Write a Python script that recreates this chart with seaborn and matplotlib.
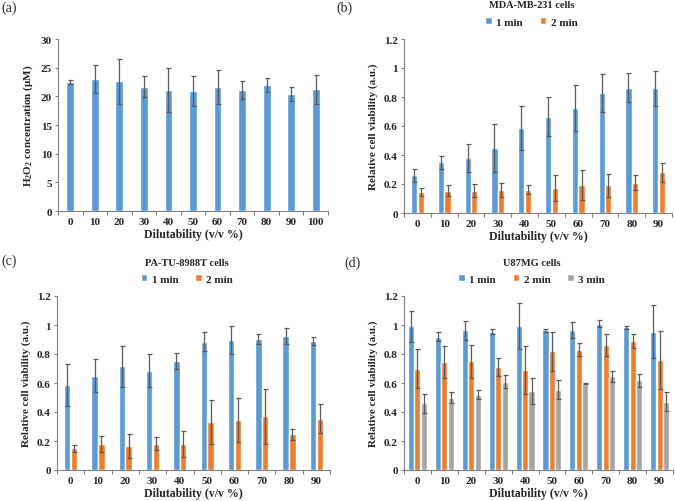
import numpy as np
import pandas as pd
import seaborn as sns
import matplotlib.pyplot as plt
from matplotlib.patches import Patch

# ---- data ----
dil_a = ['0', '10', '20', '30', '40', '50', '60', '70', '80', '90', '100']
h2o2 = [22.5, 23.0, 22.6, 21.7, 21.1, 21.0, 21.6, 21.1, 22.0, 20.4, 21.2]
h2o2_err = [0.3, 2.4, 3.9, 1.9, 3.9, 2.6, 3.0, 1.6, 1.2, 1.3, 2.5]

dil = ['0', '10', '20', '30', '40', '50', '60', '70', '80', '90']

mda_1 = [0.26, 0.35, 0.38, 0.45, 0.585, 0.665, 0.725, 0.83, 0.865, 0.86]
mda_1_err = [0.045, 0.045, 0.095, 0.165, 0.15, 0.135, 0.16, 0.13, 0.1, 0.12]
mda_2 = [0.145, 0.155, 0.155, 0.16, 0.16, 0.175, 0.195, 0.19, 0.21, 0.28]
mda_2_err = [0.03, 0.04, 0.045, 0.05, 0.03, 0.09, 0.105, 0.08, 0.05, 0.065]

pa_1 = [0.585, 0.65, 0.715, 0.685, 0.755, 0.885, 0.895, 0.905, 0.925, 0.89]
pa_1_err = [0.145, 0.115, 0.14, 0.115, 0.055, 0.065, 0.095, 0.035, 0.055, 0.03]
pa_2 = [0.15, 0.18, 0.165, 0.18, 0.18, 0.33, 0.345, 0.37, 0.245, 0.355]
pa_2_err = [0.025, 0.055, 0.08, 0.045, 0.09, 0.15, 0.15, 0.19, 0.035, 0.1]

u87_1 = [0.99, 0.92, 0.965, 0.955, 0.995, 0.965, 0.965, 1.01, 0.985, 0.955]
u87_1_err = [0.11, 0.03, 0.065, 0.015, 0.16, 0.01, 0.055, 0.025, 0.01, 0.185]
u87_2 = [0.70, 0.745, 0.75, 0.71, 0.69, 0.82, 0.83, 0.86, 0.89, 0.76]
u87_2_err = [0.135, 0.11, 0.115, 0.065, 0.165, 0.135, 0.045, 0.075, 0.05, 0.2]
u87_3 = [0.46, 0.50, 0.52, 0.61, 0.545, 0.555, 0.595, 0.645, 0.62, 0.47]
u87_3_err = [0.065, 0.04, 0.03, 0.045, 0.09, 0.065, 0.003, 0.04, 0.045, 0.065]

colors = ['#5B9BD5', '#ED7D31', '#A5A5A5']
errcol = '#595959'

sns.set_style('white')
plt.rcParams['font.family'] = ['Liberation Serif', 'DejaVu Serif']
plt.rcParams['font.weight'] = 'bold'
plt.rcParams['mathtext.fontset'] = 'custom'
plt.rcParams['mathtext.rm'] = 'Liberation Serif'
plt.rcParams['mathtext.bf'] = 'Liberation Serif:bold'

FAM = ['Liberation Serif', 'DejaVu Serif']
W, H = 675, 502
fig = plt.figure(figsize=(W / 100, H / 100), dpi=100)


def fy(py):
    # pixel row from top -> figure fraction
    return 1 - py / H


def panel(box, cats, series, errs, names, width, ylim, yticks, ylabel, title, letter, letter_xy):
    x0, y0, x1, y1 = box
    ax = fig.add_axes([x0 / W, fy(y1), (x1 - x0) / W, (y1 - y0) / H])
    rows = []
    for name, vals in zip(names, series):
        for c, v in zip(cats, vals):
            rows.append({'dil': c, 'val': v, 'time': name})
    df = pd.DataFrame(rows)
    sns.barplot(data=df, x='dil', y='val', hue='time', palette=colors[:len(names)],
                width=width, gap=0.06 if len(names) > 1 else 0, errorbar=None,
                ax=ax, legend=False, saturation=1)
    for cont, e in zip(ax.containers, errs):
        xs = [p.get_x() + p.get_width() / 2 for p in cont.patches]
        ys = [p.get_height() for p in cont.patches]
        ax.errorbar(xs, ys, yerr=e, fmt='none', ecolor=errcol, elinewidth=0.9,
                    capsize=1.8, capthick=0.9)
    ax.set_ylim(ylim)
    ax.set_yticks(yticks)
    ax.set_yticklabels([('%g' % t) for t in yticks])
    ax.set_xlim(-0.5, len(cats) - 0.5)
    # excel-style ticks between the categories
    ax.set_xticks(np.arange(len(cats) + 1) - 0.5, minor=True)
    for s in ['top', 'right']:
        ax.spines[s].set_visible(False)
    for s in ['left', 'bottom']:
        ax.spines[s].set_color('#808080')
        ax.spines[s].set_linewidth(0.8)
    ax.tick_params(axis='both', labelsize=8, length=2.5, color='#808080', width=0.8,
                   direction='out', bottom=True, left=True, pad=2)
    ax.tick_params(axis='x', which='major', length=0, pad=4)
    ax.tick_params(axis='x', which='minor', length=3, color='#808080', width=0.8, bottom=True)
    for lab in ax.get_xticklabels() + ax.get_yticklabels():
        lab.set_fontweight('bold')
        lab.set_family(FAM)
    ax.set_xlabel('Dilutability (v/v %)', fontsize=8.5, fontweight='bold', labelpad=2,
                  family=FAM)
    ax.set_ylabel(ylabel, fontsize=8, fontweight='bold', labelpad=4, family=FAM)
    cx = (x0 + x1) / 2 / W - 0.01
    if title:
        fig.text(cx, fy(y0 - 34), title, ha='center', va='center',
                 fontsize=7.5, fontweight='bold', family=FAM)
    if len(names) > 1:
        handles = [Patch(facecolor=colors[i], label=n) for i, n in enumerate(names)]
        fig.legend(handles=handles, loc='center', bbox_to_anchor=(cx, fy(y0 - 17)),
                   ncol=len(names), frameon=False, handlelength=0.6,
                   handleheight=0.6, handletextpad=0.4, columnspacing=1.5,
                   prop={'weight': 'bold', 'size': 8, 'family': FAM})
    fig.text(letter_xy[0] / W, fy(letter_xy[1]), letter, fontsize=10,
             fontweight='normal', va='center', family=FAM)
    return ax


ticks_v = [0, 0.2, 0.4, 0.6, 0.8, 1, 1.2]
panel((58, 40, 328, 212), dil_a, [h2o2], [h2o2_err], ['H2O2'], 0.32,
      (0, 30), [0, 5, 10, 15, 20, 25, 30], 'H$_\\mathbf{2}$O$_\\mathbf{2}$ concentration (μM)',
      None, '(a)', (1, 8))
panel((404, 40, 672, 214), dil, [mda_1, mda_2], [mda_1_err, mda_2_err],
      ['1 min', '2 min'], 0.5, (0, 1.2), ticks_v,
      'Relative cell viability (a.u.)', 'MDA-MB-231 cells', '(b)', (336, 8))
panel((57, 297, 330, 471), dil, [pa_1, pa_2], [pa_1_err, pa_2_err],
      ['1 min', '2 min'], 0.5, (0, 1.2), ticks_v,
      'Relative cell viability (a.u.)', 'PA-TU-8988T cells', '(c)', (1, 261))
panel((404, 297, 673, 471), dil, [u87_1, u87_2, u87_3], [u87_1_err, u87_2_err, u87_3_err],
      ['1 min', '2 min', '3 min'], 0.72, (0, 1.2), ticks_v,
      'Relative cell viability (a.u.)', 'U87MG cells', '(d)', (344, 263))

fig.savefig('out.png', dpi=100)
